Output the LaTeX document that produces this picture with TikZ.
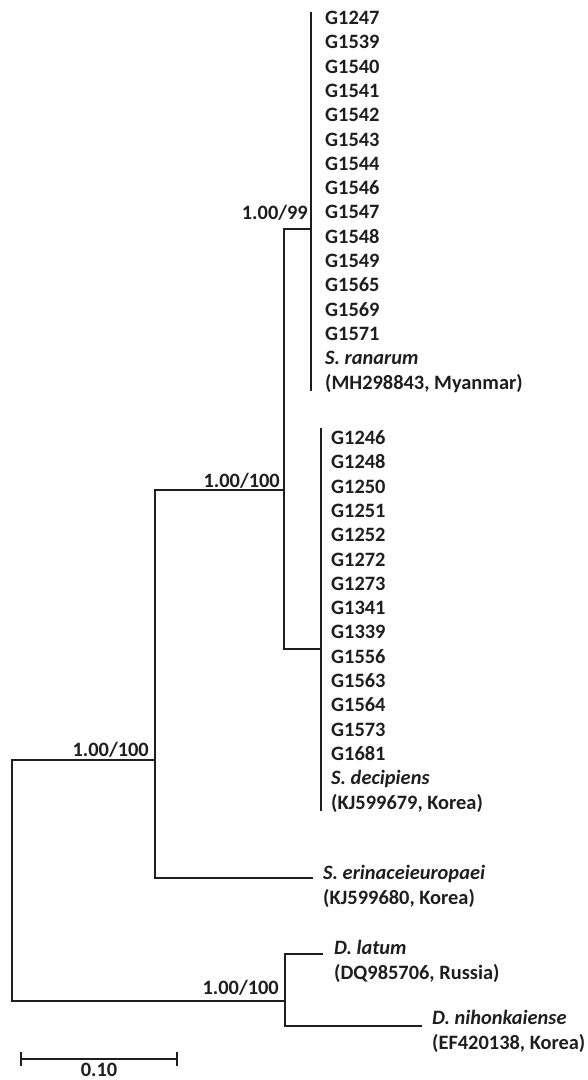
\documentclass[tikz,border=0pt]{standalone}
\usepackage{fontspec}
\setmainfont{Carlito}
\definecolor{ink}{HTML}{1E1E1E}
\begin{document}
\begin{tikzpicture}[x=1pt,y=-1pt,
  branch/.style={line width=2.9pt,draw=ink,line join=miter,line cap=rect},
  leaf/.style={anchor=base west,inner sep=0pt,text=ink,
    font=\fontsize{20.4}{24}\selectfont\bfseries},
  taxon/.style={leaf,font=\fontsize{20.4}{24}\selectfont\bfseries\itshape},
  support/.style={anchor=base east,inner sep=0pt,text=ink,
    font=\fontsize{20.4}{24}\selectfont\bfseries}]
\useasboundingbox (0,0) rectangle (587,1080);

% internal nodes and branch tips
\coordinate (root) at (12,760);
\coordinate (s) at (155,760);
\coordinate (a) at (284,490);
\coordinate (t) at (311,229);
\coordinate (l) at (321,649);
\coordinate (ttop) at (311,13);
\coordinate (tbot) at (311,390);
\coordinate (ltop) at (321,429);
\coordinate (lbot) at (321,810);
\coordinate (erinTip) at (312,878);
\coordinate (d) at (285,1001);
\coordinate (dlTip) at (322,954);
\coordinate (dnTip) at (421,1026);

% branches
\draw[branch] (ttop) -- (tbot);
\draw[branch] (ltop) -- (lbot);
\draw[branch] (t) -| (a) |- (l);
\draw[branch] (a) -| (s) |- (erinTip);
\draw[branch] (s) -- (root) |- (d);
\draw[branch] (dlTip) -| (d) |- (dnTip);

% Spirometra ranarum clade
\foreach \lab [count=\i from 0] in {G1247,G1539,G1540,G1541,G1542,G1543,G1544,G1546,G1547,G1548,G1549,G1565,G1569,G1571}
  \node[leaf] (ta\i) at (325,{18+24.3*\i+6.5}) {\lab};
\node[taxon] (ta14) at (325,{18+24.3*14+6.5}) {S. ranarum};
\node[leaf] (ta15) at (325,{18+24.3*15+6.5}) {(MH298843, Myanmar)};

% Spirometra decipiens clade
\foreach \lab [count=\i from 0] in {G1246,G1248,G1250,G1251,G1252,G1272,G1273,G1341,G1339,G1556,G1563,G1564,G1573,G1681}
  \node[leaf] (tb\i) at (331,{438+24.3*\i+6.5}) {\lab};
\node[taxon] (tb14) at (331,{438+24.3*14+6.5}) {S. decipiens};
\node[leaf] (tb15) at (331,{438+24.3*15+6.5}) {(KJ599679, Korea)};

% single taxa
\node[taxon] (erin) at (323,{873+6.5}) {S. erinaceieuropaei};
\node[leaf] (erin2) at (323,{898+6.5}) {(KJ599680, Korea)};
\node[taxon] (dl) at (334,{948+6.5}) {D. latum};
\node[leaf] (dl2) at (334,{973+6.5}) {(DQ985706, Russia)};
\node[taxon] (dn) at (432,{1018+6.5}) {D. nihonkaiense};
\node[leaf] (dn2) at (432,{1043+6.5}) {(EF420138, Korea)};

% support values
\node[support] (sup1) at (308,{213+6.5}) {1.00/99};
\node[support] (sup2) at (280,{481+6.5}) {1.00/100};
\node[support] (sup3) at (149,{750+6.5}) {1.00/100};
\node[support] (sup4) at (279,{988+6.5}) {1.00/100};

% scale bar
\coordinate (sbL) at (21,1059);
\coordinate (sbR) at (177,1059);
\draw[branch,line cap=butt] (sbL) -- (sbR);
\draw[branch,line cap=butt] ([yshift=7pt]sbL) -- ([yshift=-7pt]sbL);
\draw[branch,line cap=butt] ([yshift=7pt]sbR) -- ([yshift=-7pt]sbR);
\node[leaf,anchor=base] (scale) at (99,1076) {0.10};
\end{tikzpicture}
\end{document}
